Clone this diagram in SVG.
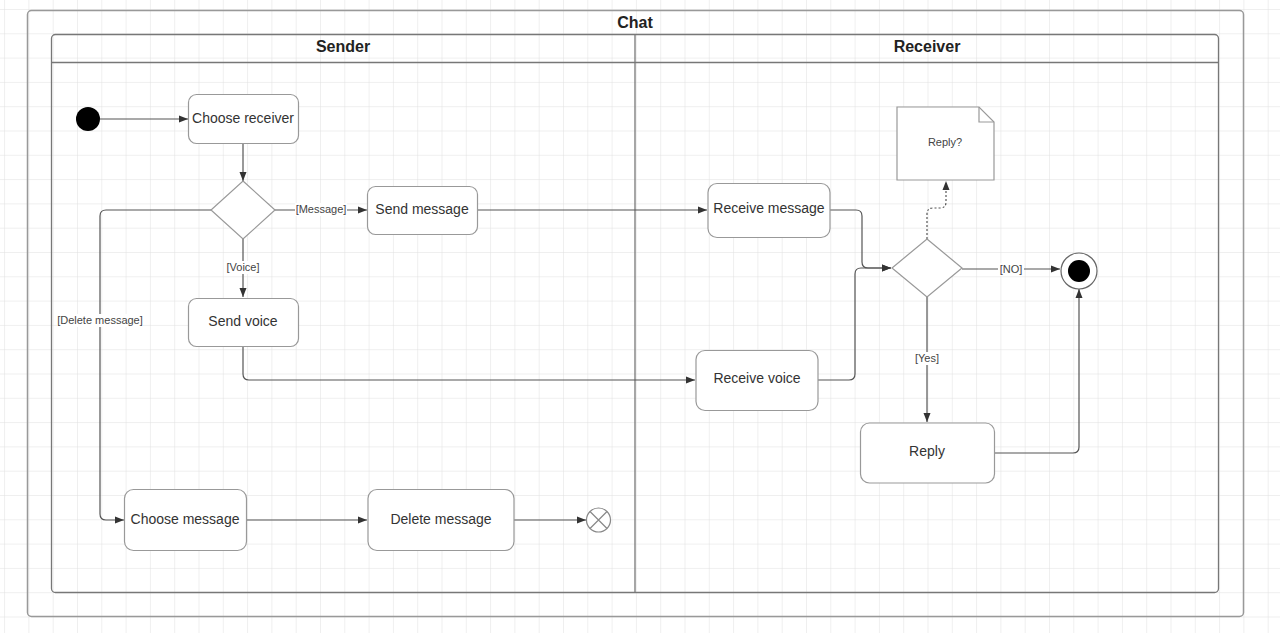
<svg xmlns="http://www.w3.org/2000/svg" width="1280" height="633" viewBox="0 0 1280 633">
<defs>
<pattern id="grid" patternUnits="userSpaceOnUse" x="4.1" y="9" width="24.3" height="24.3">
<path d="M0,0 H24.3 M0,0 V24.3" fill="none" stroke="#dfdfdf" stroke-width="1"/>
</pattern>
<marker id="arr" markerUnits="userSpaceOnUse" markerWidth="10" markerHeight="8" refX="9" refY="4" orient="auto">
<path d="M0,0.5 L9,4 L0,7.5 z" fill="#333"/>
</marker>
<style>
.frame{fill:none;stroke:#999;stroke-width:1.5}
.pool{fill:none;stroke:#777;stroke-width:1.3}
.box{fill:#fff;stroke:#999;stroke-width:1.2}
.hdr{font-family:"Liberation Sans",Arial,sans-serif;font-size:16px;font-weight:bold;fill:#222;text-anchor:middle}
.t{font-family:"Liberation Sans",Arial,sans-serif;font-size:14px;fill:#333;text-anchor:middle}
.lbl{font-family:"Liberation Sans",Arial,sans-serif;font-size:11px;fill:#444;text-anchor:middle}
.ln{fill:none;stroke:#555;stroke-width:1.2}
.lb{fill:#fff}
</style>
</defs>
<rect width="1280" height="633" fill="#fff"/>
<rect width="1280" height="633" fill="url(#grid)"/>

<g id="frame-chat">
<rect class="frame" x="27.5" y="10.5" width="1216" height="606" rx="4"/>
<text class="hdr" x="635" y="28">Chat</text>
</g>
<g id="lanes">
<rect class="pool" x="51.5" y="34.5" width="1167" height="558" rx="4"/>
<line class="pool" x1="51.5" y1="62.5" x2="1218.5" y2="62.5"/>
<line class="pool" x1="635" y1="34.5" x2="635" y2="592.5"/>
<text class="hdr" x="343" y="52">Sender</text>
<text class="hdr" x="927" y="52">Receiver</text>
</g>

<g id="connectors">
<path class="ln" d="M100,119 H188" marker-end="url(#arr)"/>
<path class="ln" d="M243,143 V181" marker-end="url(#arr)"/>
<path class="ln" d="M275,210 H367" marker-end="url(#arr)"/>
<path class="ln" d="M243,239 V297" marker-end="url(#arr)"/>
<path class="ln" d="M211,210 H106 Q100,210 100,216 V514 Q100,520 106,520 H124" marker-end="url(#arr)"/>
<path class="ln" d="M246,520 H367" marker-end="url(#arr)"/>
<path class="ln" d="M514,520 H586" marker-end="url(#arr)"/>
<path class="ln" d="M243,347 V374 Q243,380 249,380 H695" marker-end="url(#arr)"/>
<path class="ln" d="M477,210 H707" marker-end="url(#arr)"/>
<path class="ln" d="M830,210 H856 Q862,210 862,216 V262 Q862,268 868,268 H891" marker-end="url(#arr)"/>
<path class="ln" d="M818,380 H849 Q855,380 855,374 V274 Q855,268 861,268 H891" marker-end="url(#arr)"/>
<path class="ln" d="M927,239 V214 Q927,208 933,208 H940 Q946,208 946,202 V181" stroke-dasharray="2,2" marker-end="url(#arr)"/>
<path class="ln" d="M962,269 H1060" marker-end="url(#arr)"/>
<path class="ln" d="M927,297 V422" marker-end="url(#arr)"/>
<path class="ln" d="M994,453 H1073 Q1079,453 1079,447 V289" marker-end="url(#arr)"/>
<rect class="lb" x="295" y="203" width="52" height="13"/>
<text class="lbl" x="321" y="213">[Message]</text>
<rect class="lb" x="226" y="261" width="34" height="13"/>
<text class="lbl" x="243" y="271">[Voice]</text>
<rect class="lb" x="57" y="314" width="86" height="13"/>
<text class="lbl" x="100" y="324">[Delete message]</text>
<rect class="lb" x="998" y="263" width="26" height="13"/>
<text class="lbl" x="1011" y="273">[NO]</text>
<rect class="lb" x="913" y="352" width="28" height="13"/>
<text class="lbl" x="927" y="362">[Yes]</text>
</g>

<g id="start"><circle cx="88" cy="119" r="12" fill="#000"/></g>
<g id="choose-receiver"><rect class="box" x="188.5" y="94.5" width="110" height="49" rx="8"/><text class="t" x="243" y="123">Choose receiver</text></g>
<g id="decision-1"><path class="box" d="M243,181 L275,210 L243,239 L211,210 z"/></g>
<g id="send-message"><rect class="box" x="367.5" y="186.5" width="110" height="48" rx="8"/><text class="t" x="422" y="214">Send message</text></g>
<g id="send-voice"><rect class="box" x="188.5" y="298.5" width="110" height="48" rx="8"/><text class="t" x="243" y="326">Send voice</text></g>
<g id="choose-message"><rect class="box" x="124.5" y="489.5" width="122" height="61" rx="9"/><text class="t" x="185" y="524">Choose message</text></g>
<g id="delete-message"><rect class="box" x="368" y="489.5" width="146" height="61" rx="9"/><text class="t" x="441" y="524">Delete message</text></g>
<g id="flow-final"><circle cx="598.5" cy="520" r="12" fill="#fff" stroke="#888" stroke-width="1.2"/><path d="M590,511.5 L607,528.5 M607,511.5 L590,528.5" stroke="#888" stroke-width="1.2"/></g>
<g id="receive-message"><rect class="box" x="708" y="183.5" width="122" height="54" rx="9"/><text class="t" x="769" y="213">Receive message</text></g>
<g id="receive-voice"><rect class="box" x="696" y="350.5" width="122" height="60" rx="9"/><text class="t" x="757" y="383">Receive voice</text></g>
<g id="decision-2"><path class="box" d="M927,239 L962,268 L927,297 L892,268 z"/></g>
<g id="note-reply"><path class="box" d="M897,107 H979 L994,122 V180 H897 z"/><path d="M979,107 V122 H994" fill="none" stroke="#999" stroke-width="1.2"/><text class="lbl" x="945" y="146">Reply?</text></g>
<g id="reply"><rect class="box" x="860.5" y="423" width="134" height="60" rx="9"/><text class="t" x="927" y="456">Reply</text></g>
<g id="end"><circle cx="1079" cy="271" r="18" fill="#fff" stroke="#666" stroke-width="1.2"/><circle cx="1079" cy="271" r="11" fill="#000"/></g>
</svg>
